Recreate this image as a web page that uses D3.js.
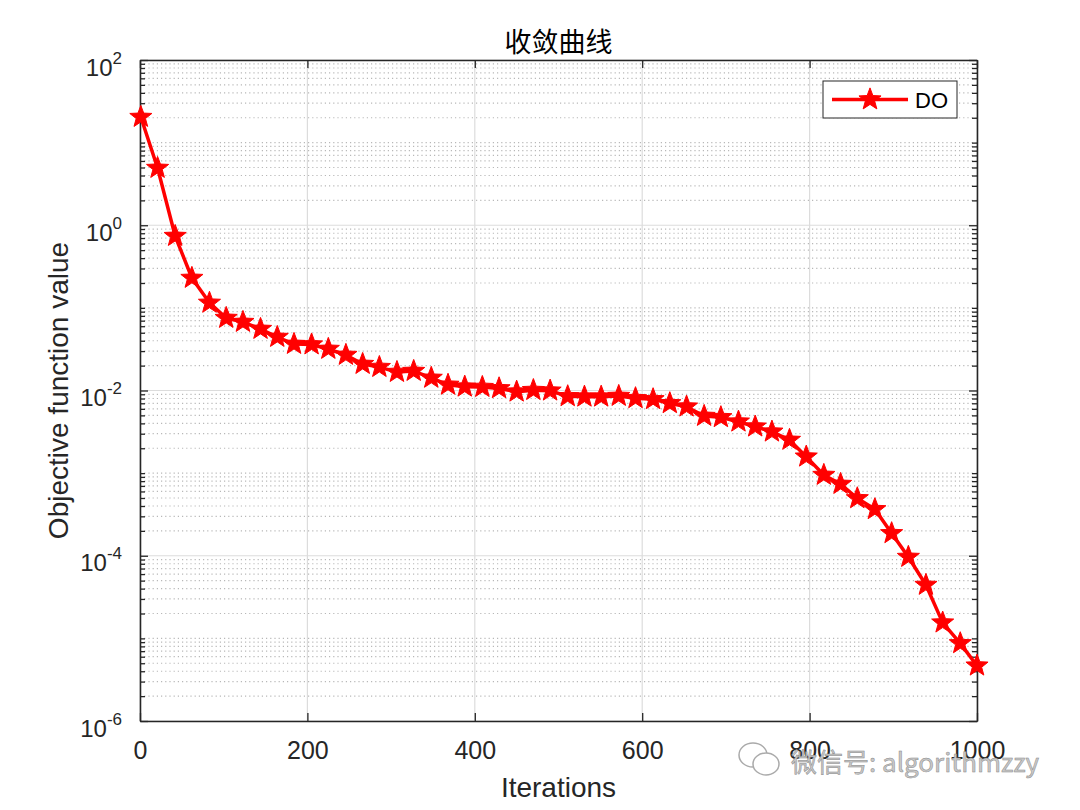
<!DOCTYPE html>
<html>
<head>
<meta charset="utf-8">
<script src="https://cdn.jsdelivr.net/npm/d3@7"></script>
<style>
  body { margin: 0; background: #fff; }
  text { font-family: "Liberation Sans", Arial, sans-serif; }
</style>
</head>
<body>
<div id="chart"></div>
<script>
// data (50 marker points)
var iterations = [1, 21, 42, 62, 83, 103, 123, 144, 164, 184,
  205, 225, 246, 266, 286, 307, 327, 348, 368, 388,
  409, 429, 450, 470, 490, 511, 531, 551, 572, 592,
  613, 633, 653, 674, 694, 715, 735, 755, 776, 796,
  817, 837, 857, 878, 898, 918, 939, 959, 980, 1000];
var doValues = [20.4, 4.93, 0.74, 0.23, 0.115, 0.0754, 0.0674, 0.0555, 0.0444, 0.0365,
  0.036, 0.0318, 0.0269, 0.0209, 0.0192, 0.0167, 0.0172, 0.0142, 0.0117, 0.0111,
  0.011, 0.0106, 0.00966, 0.0101, 0.00994, 0.0085, 0.0084, 0.0084, 0.00857, 0.00805,
  0.00782, 0.0070, 0.00637, 0.00491, 0.00474, 0.00419, 0.00365, 0.00317, 0.00252, 0.00158,
  0.000949, 0.000738, 0.000495, 0.000365, 0.000187, 9.66e-5, 4.43e-5, 1.55e-5, 8.71e-6, 4.67e-6];
var xTicks = [0, 200, 400, 600, 800, 1000];
var yExponents = [-6, -4, -2, 0, 2];
var seriesName = "DO";
var titleText = "收敛曲线";
var xLabel = "Iterations";
var yLabel = "Objective function value";

var W = 1080, H = 810;
var plotL = 140, plotR = 977, plotT = 60, plotB = 721;
var axisColor = "#262626";

var svg = d3.select("#chart").append("svg")
  .attr("width", W)
  .attr("height", H);

var x = d3.scaleLinear().domain([0, 1000]).range([plotL, plotR]);
var y = d3.scaleLog().domain([1e-6, 1e2]).range([plotB, plotT]);

var yMajor = yExponents.map(function(e) { return Math.pow(10, e); });
// minor ticks: 1..9 x 10^k that are not labelled decades
var yMinor = [];
for (var k = -6; k < 2; k++) {
  for (var m = 1; m <= 9; m++) {
    if (m === 1 && yExponents.indexOf(k) >= 0) continue;
    yMinor.push(m * Math.pow(10, k));
  }
}

// grid
var grid = svg.append("g");
grid.selectAll(".minor").data(yMinor).enter().append("line")
  .attr("x1", plotL).attr("x2", plotR)
  .attr("y1", function(d) { return y(d); })
  .attr("y2", function(d) { return y(d); })
  .style("stroke", "#b8b8b8")
  .style("stroke-width", 1.2)
  .style("stroke-dasharray", "1.2,3");
grid.selectAll(".ymaj").data(yMajor).enter().append("line")
  .attr("x1", plotL).attr("x2", plotR)
  .attr("y1", function(d) { return y(d); })
  .attr("y2", function(d) { return y(d); })
  .style("stroke", "#dcdcdc")
  .style("stroke-width", 1.2);
grid.selectAll(".xmaj").data(xTicks).enter().append("line")
  .attr("y1", plotT).attr("y2", plotB)
  .attr("x1", function(d) { return x(d); })
  .attr("x2", function(d) { return x(d); })
  .style("stroke", "#dcdcdc")
  .style("stroke-width", 1.2);

// axes (ticks pointing inward, box on)
function styleAxis(g) {
  g.selectAll("path").style("stroke", axisColor).style("stroke-width", 1.3);
  g.selectAll("line").style("stroke", axisColor).style("stroke-width", 1.3);
  g.selectAll("text").remove();
}

svg.append("g").attr("transform", "translate(" + plotL + ",0)")
  .call(d3.axisLeft(y).tickValues(yMinor).tickSize(-5).tickSizeOuter(0).tickFormat(""))
  .call(styleAxis);
svg.append("g").attr("transform", "translate(" + plotR + ",0)")
  .call(d3.axisRight(y).tickValues(yMinor).tickSize(-5).tickSizeOuter(0).tickFormat(""))
  .call(styleAxis);
svg.append("g").attr("transform", "translate(" + plotR + ",0)")
  .call(d3.axisRight(y).tickValues(yMajor).tickSize(-8).tickSizeOuter(0).tickFormat(""))
  .call(styleAxis);
svg.append("g").attr("transform", "translate(0," + plotT + ")")
  .call(d3.axisTop(x).tickValues(xTicks).tickSize(-8).tickSizeOuter(0).tickFormat(""))
  .call(styleAxis);

var yAxisG = svg.append("g").attr("transform", "translate(" + plotL + ",0)")
  .call(d3.axisLeft(y).tickValues(yMajor).tickSize(-8).tickSizeOuter(0).tickFormat(""))
  .call(styleAxis);
yAxisG.selectAll(".tick").each(function(d) {
  var t = d3.select(this).append("text")
    .attr("x", -18)
    .attr("y", 15)
    .attr("text-anchor", "end")
    .style("fill", axisColor)
    .style("font-size", "24px");
  t.append("tspan").text("10");
  t.append("tspan")
    .attr("dy", -12)
    .style("font-size", "17px")
    .text(Math.round(Math.log10(d)));
});

var xAxisG = svg.append("g").attr("transform", "translate(0," + plotB + ")")
  .call(d3.axisBottom(x).tickValues(xTicks).tickSize(-8).tickSizeOuter(0).tickFormat(""))
  .call(styleAxis);
xAxisG.selectAll(".tick").append("text")
  .attr("y", 38)
  .attr("text-anchor", "middle")
  .style("fill", axisColor)
  .style("font-size", "25px")
  .text(function(d) { return d; });

// labels & title
svg.append("text")
  .attr("x", (plotL + plotR) / 2).attr("y", 797)
  .attr("text-anchor", "middle")
  .style("font-size", "28px").style("fill", axisColor)
  .text(xLabel);
svg.append("text")
  .attr("transform", "translate(68," + ((plotT + plotB) / 2) + ") rotate(-90)")
  .attr("text-anchor", "middle")
  .style("font-size", "28px").style("fill", axisColor)
  .text(yLabel);
svg.append("text")
  .attr("x", (plotL + plotR) / 2).attr("y", 52)
  .attr("text-anchor", "middle")
  .style("font-family", "'Noto Sans CJK SC', sans-serif")
  .style("font-size", "27px").style("fill", "#000")
  .text(titleText);

// series
var pts = iterations.map(function(it, i) { return {it: it, v: doValues[i]}; });
var line = d3.line()
  .x(function(d) { return x(d.it); })
  .y(function(d) { return y(d.v); });

// pentagram like matlab's marker (a bit fatter than d3.symbolStar)
var pentagram = {
  draw: function(context, size) {
    var r = Math.sqrt(size), ri = r * 0.42;
    for (var i = 0; i < 10; i++) {
      var rr = i % 2 ? ri : r;
      var a = -Math.PI / 2 + i * Math.PI / 5;
      if (i === 0) context.moveTo(rr * Math.cos(a), rr * Math.sin(a));
      else context.lineTo(rr * Math.cos(a), rr * Math.sin(a));
    }
    context.closePath();
  }
};
var star = d3.symbol().type(pentagram).size(135);

svg.append("path").datum(pts)
  .attr("d", line)
  .style("fill", "none")
  .style("stroke", "#ff0000")
  .style("stroke-width", 3.5)
  .style("stroke-linejoin", "round");
svg.selectAll(".star").data(pts).enter().append("path")
  .attr("class", "star")
  .attr("transform", function(d) { return "translate(" + x(d.it) + "," + y(d.v) + ")"; })
  .attr("d", star)
  .style("fill", "#ff0000")
  .style("stroke", "#ff0000")
  .style("stroke-width", 1);

// legend
var lg = svg.append("g").attr("transform", "translate(823,81)");
lg.append("rect").attr("width", 134).attr("height", 37)
  .style("fill", "#fff").style("stroke", axisColor).style("stroke-width", 1);
lg.append("line").attr("x1", 9).attr("x2", 85).attr("y1", 18.5).attr("y2", 18.5)
  .style("stroke", "#ff0000").style("stroke-width", 3.5);
lg.append("path").attr("transform", "translate(47,18.5)").attr("d", star)
  .style("fill", "#ff0000").style("stroke", "#ff0000");
lg.append("text").attr("x", 92).attr("y", 27)
  .style("font-size", "22px").style("fill", "#000")
  .text(seriesName);

// watermark
var wm = svg.append("g");
wm.append("ellipse").attr("cx", 753).attr("cy", 755).attr("rx", 14).attr("ry", 12)
  .style("fill", "#fff").style("stroke", "#aaa").style("stroke-width", 1.5);
wm.append("ellipse").attr("cx", 766).attr("cy", 764).attr("rx", 13).attr("ry", 11)
  .style("fill", "#fff").style("stroke", "#aaa").style("stroke-width", 1.5);
wm.append("text").attr("x", 791).attr("y", 772)
  .style("font-family", "'Noto Sans CJK SC', sans-serif")
  .style("font-size", "26px")
  .style("fill", "#c8c8c8").style("stroke", "#8a8a8a").style("stroke-width", 0.5)
  .text("微信号: algorithmzzy");
</script>
</body>
</html>
